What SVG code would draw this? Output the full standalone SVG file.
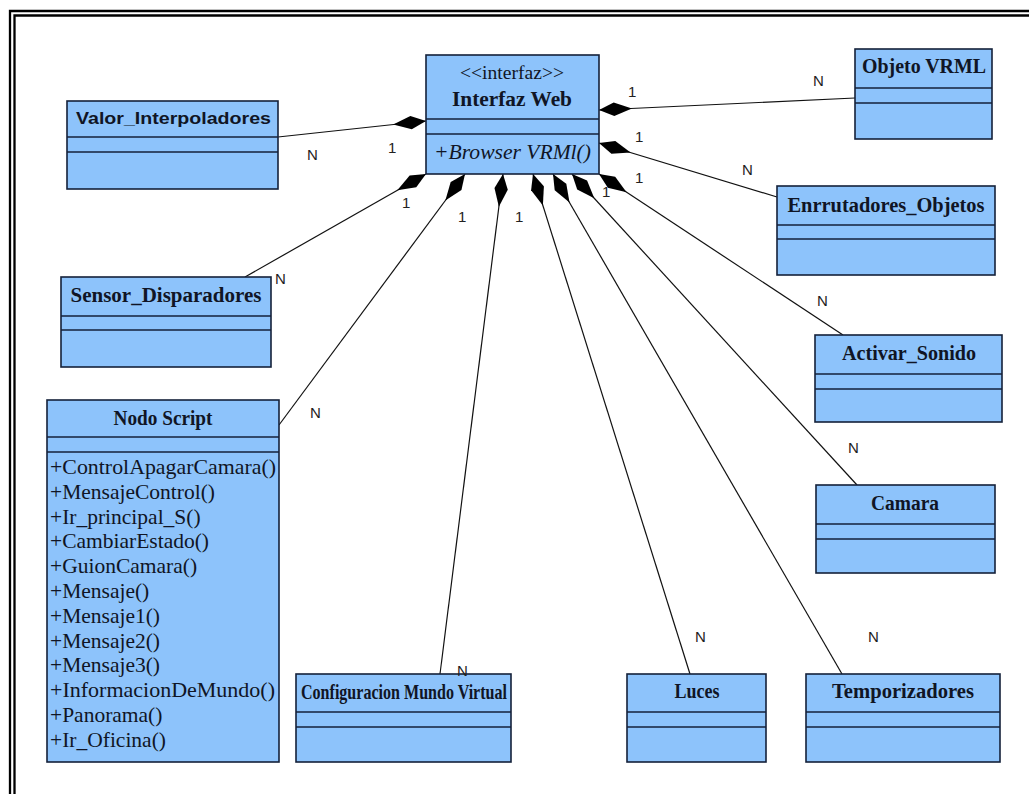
<svg xmlns="http://www.w3.org/2000/svg" width="1029" height="794" viewBox="0 0 1029 794">
<defs>
<style>
.box{fill:#8dc3fb;stroke:#14213a;stroke-width:1.6}
.div{stroke:#14213a;stroke-width:1.6}
.t{font-family:"Liberation Serif","Times New Roman",serif;font-weight:bold;font-size:20px;fill:#101525}
.ts{font-family:"Liberation Sans",Arial,sans-serif;font-weight:bold;font-size:17px;fill:#101525}
.m{font-family:"Liberation Serif","Times New Roman",serif;font-size:21.5px;fill:#101525}
.lbl{font-family:"Liberation Sans",Arial,sans-serif;font-size:15px;fill:#222}
.con line{stroke:#111;stroke-width:1.2;marker-start:url(#dia)}
</style>
<marker id="dia" markerUnits="userSpaceOnUse" markerWidth="36" markerHeight="15" refX="0" refY="7.5" orient="auto" viewBox="0 0 36 15"><path d="M0,7.5 L15,0.8 L33,7.5 L15,14.2 Z" fill="#000"/></marker>
</defs>
<rect width="1029" height="794" fill="#fff"/>
<g id="frame" stroke="#000" stroke-width="2.3" fill="none">
<path d="M10,794 V11 H1029"/>
<path d="M14.5,794 V15.5 H1029"/>
</g>
<g id="connectors" class="con">
<line x1="426" y1="121" x2="278" y2="137"/>
<line x1="599" y1="110" x2="855" y2="98"/>
<line x1="599" y1="143" x2="777" y2="197"/>
<line x1="599" y1="174" x2="843" y2="335"/>
<line x1="572" y1="174" x2="857" y2="485"/>
<line x1="553" y1="174" x2="842" y2="674"/>
<line x1="533" y1="174" x2="690" y2="674"/>
<line x1="503" y1="174" x2="440" y2="674"/>
<line x1="465" y1="174" x2="279" y2="425"/>
<line x1="426" y1="174" x2="245" y2="277"/>
</g>
<g id="interfaz_web">
<rect class="box" x="426" y="55" width="173" height="119"/>
<line class="div" x1="426" y1="119" x2="599" y2="119"/>
<line class="div" x1="426" y1="134" x2="599" y2="134"/>
<text x="512" y="79" text-anchor="middle" style="font-family:'Liberation Serif','Times New Roman',serif;font-size:18px;fill:#101525" textLength="104" lengthAdjust="spacingAndGlyphs">&lt;&lt;interfaz&gt;&gt;</text>
<text class="t" x="512" y="106" text-anchor="middle" textLength="120" lengthAdjust="spacingAndGlyphs">Interfaz Web</text>
<text x="434" y="159" style="font-family:'Liberation Serif','Times New Roman',serif;font-style:italic;font-size:21px;fill:#101525" textLength="157" lengthAdjust="spacingAndGlyphs">+Browser VRMl()</text>
</g>
<g id="valor_interpoladores">
<rect class="box" x="67" y="101" width="211" height="88"/>
<line class="div" x1="67" y1="137" x2="278" y2="137"/>
<line class="div" x1="67" y1="152" x2="278" y2="152"/>
<text class="ts" x="76" y="124" textLength="195" lengthAdjust="spacingAndGlyphs">Valor_Interpoladores</text>
</g>
<g id="objeto_vrml">
<rect class="box" x="855" y="49" width="137" height="90"/>
<line class="div" x1="855" y1="88" x2="992" y2="88"/>
<line class="div" x1="855" y1="103" x2="992" y2="103"/>
<text class="t" x="924" y="73" text-anchor="middle" textLength="124" lengthAdjust="spacingAndGlyphs">Objeto VRML</text>
</g>
<g id="enrrutadores_objetos">
<rect class="box" x="777" y="186" width="218" height="89"/>
<line class="div" x1="777" y1="225" x2="995" y2="225"/>
<line class="div" x1="777" y1="239" x2="995" y2="239"/>
<text class="t" x="886" y="212" text-anchor="middle" textLength="197" lengthAdjust="spacingAndGlyphs">Enrrutadores_Objetos</text>
</g>
<g id="sensor_disparadores">
<rect class="box" x="61" y="277" width="210" height="90"/>
<line class="div" x1="61" y1="316" x2="271" y2="316"/>
<line class="div" x1="61" y1="330" x2="271" y2="330"/>
<text class="t" x="166" y="302" text-anchor="middle" textLength="191" lengthAdjust="spacingAndGlyphs">Sensor_Disparadores</text>
</g>
<g id="activar_sonido">
<rect class="box" x="815" y="335" width="187" height="87"/>
<line class="div" x1="815" y1="374" x2="1002" y2="374"/>
<line class="div" x1="815" y1="389" x2="1002" y2="389"/>
<text class="t" x="909" y="360" text-anchor="middle" textLength="134" lengthAdjust="spacingAndGlyphs">Activar_Sonido</text>
</g>
<g id="camara">
<rect class="box" x="816" y="485" width="179" height="88"/>
<line class="div" x1="816" y1="524" x2="995" y2="524"/>
<line class="div" x1="816" y1="539" x2="995" y2="539"/>
<text class="t" x="905" y="510" text-anchor="middle" textLength="68" lengthAdjust="spacingAndGlyphs">Camara</text>
</g>
<g id="nodo_script">
<rect class="box" x="47" y="400" width="232" height="362"/>
<line class="div" x1="47" y1="437" x2="279" y2="437"/>
<line class="div" x1="47" y1="452" x2="279" y2="452"/>
<text class="t" x="163" y="425" text-anchor="middle" textLength="99" lengthAdjust="spacingAndGlyphs">Nodo Script</text>
<text class="m" x="50" y="474" textLength="226" lengthAdjust="spacingAndGlyphs">+ControlApagarCamara()</text>
<text class="m" x="50" y="498.8">+MensajeControl()</text>
<text class="m" x="50" y="523.6">+Ir_principal_S()</text>
<text class="m" x="50" y="548.4">+CambiarEstado()</text>
<text class="m" x="50" y="573.2">+GuionCamara()</text>
<text class="m" x="50" y="598">+Mensaje()</text>
<text class="m" x="50" y="622.8">+Mensaje1()</text>
<text class="m" x="50" y="647.6">+Mensaje2()</text>
<text class="m" x="50" y="672.4">+Mensaje3()</text>
<text class="m" x="50" y="697.2" textLength="225" lengthAdjust="spacingAndGlyphs">+InformacionDeMundo()</text>
<text class="m" x="50" y="722">+Panorama()</text>
<text class="m" x="50" y="746.8">+Ir_Oficina()</text>
</g>
<g id="configuracion_mundo_virtual">
<rect class="box" x="296" y="674" width="215" height="88"/>
<line class="div" x1="296" y1="712" x2="511" y2="712"/>
<line class="div" x1="296" y1="727" x2="511" y2="727"/>
<text class="t" x="404" y="699" text-anchor="middle" style="font-size:21px" textLength="206" lengthAdjust="spacingAndGlyphs">Configuracion Mundo Virtual</text>
</g>
<g id="luces">
<rect class="box" x="627" y="674" width="139" height="88"/>
<line class="div" x1="627" y1="712" x2="766" y2="712"/>
<line class="div" x1="627" y1="727" x2="766" y2="727"/>
<text class="t" x="697" y="698" text-anchor="middle" textLength="45" lengthAdjust="spacingAndGlyphs">Luces</text>
</g>
<g id="temporizadores">
<rect class="box" x="806" y="674" width="194" height="88"/>
<line class="div" x1="806" y1="712" x2="1000" y2="712"/>
<line class="div" x1="806" y1="727" x2="1000" y2="727"/>
<text class="t" x="903" y="698" text-anchor="middle" textLength="142" lengthAdjust="spacingAndGlyphs">Temporizadores</text>
</g>
<g id="labels" class="lbl">
<text x="307" y="160">N</text>
<text x="388" y="153">1</text>
<text x="628" y="97">1</text>
<text x="813" y="86">N</text>
<text x="635" y="142">1</text>
<text x="742" y="175">N</text>
<text x="635" y="183">1</text>
<text x="817" y="306">N</text>
<text x="602" y="197">1</text>
<text x="848" y="453">N</text>
<text x="868" y="642">N</text>
<text x="695" y="642">N</text>
<text x="457" y="676">N</text>
<text x="515" y="222">1</text>
<text x="458" y="222">1</text>
<text x="310" y="418">N</text>
<text x="402" y="208">1</text>
<text x="275" y="284">N</text>
</g>
</svg>
